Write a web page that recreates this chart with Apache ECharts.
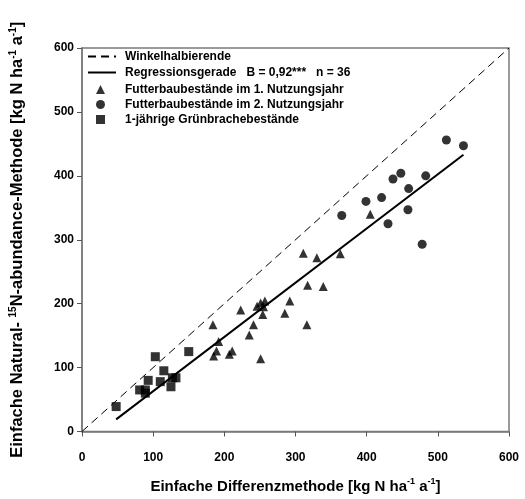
<!DOCTYPE html>
<html>
<head>
<meta charset="utf-8">
<script src="https://cdn.jsdelivr.net/npm/echarts@6/dist/echarts.min.js"></script>
<style>html,body{margin:0;padding:0;background:#fff}#c{width:525px;height:499px}</style>
</head>
<body>
<div id="c"></div>
<script>
// Data
var xTicks = [0, 100, 200, 300, 400, 500, 600];
var yTicks = [0, 100, 200, 300, 400, 500, 600];

var diagX = [0, 600];
var diagY = [0, 600];

var regX = [48, 536];
var regY = [19, 433];

var triX = [184, 223, 246, 251, 257, 255, 254, 241, 235, 192, 189, 185, 211, 207, 251, 311, 330, 363, 317, 339, 292, 285, 316, 405];
var triY = [167, 190, 196, 201, 204, 195, 183, 167, 151, 141, 126, 118, 126, 121, 114, 279, 272, 278, 229, 227, 204, 185, 167, 340];

var cirX = [512, 536, 448, 437, 483, 459, 399, 421, 458, 430, 478, 365];
var cirY = [456, 447, 404, 395, 400, 380, 360, 366, 347, 325, 293, 338];

var sqX = [48, 103, 150, 115, 93, 110, 127, 132, 125, 81, 89, 89];
var sqY = [39, 117, 125, 95, 80, 78, 84, 84, 70, 65, 65, 60];

var names = [
  'Winkelhalbierende',
  'Regressionsgerade   B = 0,92***   n = 36',
  'Futterbaubestände im 1. Nutzungsjahr',
  'Futterbaubestände im 2. Nutzungsjahr',
  '1-jährige Grünbrachebestände'
];

function pairs(xs, ys) { return xs.map(function (x, i) { return [x, ys[i]]; }); }

var FONT = '"Liberation Sans", Arial, sans-serif';
var chart = echarts.init(document.getElementById('c'), null, {renderer: 'canvas'});
var legText = {fontFamily: FONT, fontWeight: 'bold', fontSize: 12, color: '#000', lineHeight: 15};

chart.setOption({
  animation: false,
  backgroundColor: '#fff',
  grid: {left: 80, right: 16, top: 48, bottom: 62, show: true, borderColor: '#7a7a7a', borderWidth: 1.5},
  legend: [
    {
      orient: 'vertical', left: 82, top: 49, padding: [0, 5],
      itemWidth: 28, itemHeight: 10, itemGap: 1,
      textStyle: Object.assign({padding: [0, 0, 0, 4]}, legText),
      itemStyle: {opacity: 0},
      data: [{name: names[0]}, {name: names[1]}]
    },
    {
      orient: 'vertical', left: 91, top: 82, padding: [0, 5],
      itemWidth: 9, itemHeight: 9, itemGap: 0,
      textStyle: Object.assign({padding: [0, 0, 0, 15]}, legText),
      data: [{name: names[2], icon: 'triangle'}, {name: names[3], icon: 'circle'}, {name: names[4], icon: 'rect'}]
    }
  ],
  xAxis: {
    type: 'value', min: 0, max: 600, interval: 100,
    axisLine: {show: true, lineStyle: {color: '#7a7a7a', width: 1.5}},
    axisTick: {show: true, inside: false, length: 5, lineStyle: {color: '#555'}},
    splitLine: {show: false},
    axisLabel: {fontFamily: FONT, fontWeight: 'bold', fontSize: 12, color: '#000', margin: 20,
      formatter: function (v) { return xTicks.indexOf(v) >= 0 ? String(v) : ''; }},
    name: '{b|Einfache Differenzmethode [kg N ha}{s|-1}{b| a}{s|-1}{b|]}',
    nameLocation: 'middle', nameGap: 46,
    nameTextStyle: {rich: {
      b: {fontSize: 15, fontWeight: 'bold', fontFamily: FONT, lineHeight: 18, color: '#000'},
      s: {fontSize: 9, fontWeight: 'bold', fontFamily: FONT, verticalAlign: 'top', lineHeight: 18, color: '#000'}
    }}
  },
  yAxis: {
    type: 'value', min: 0, max: 600, interval: 100,
    axisLine: {show: true, lineStyle: {color: '#7a7a7a', width: 1.5}},
    axisTick: {show: true, inside: false, length: 5, lineStyle: {color: '#555'}},
    splitLine: {show: false},
    axisLabel: {fontFamily: FONT, fontWeight: 'bold', fontSize: 12, color: '#000', margin: 8,
      formatter: function (v) { return yTicks.indexOf(v) >= 0 ? String(v) : ''; }},
    name: '{b|Einfache Natural- }{s|15}{b|N-abundance-Methode [kg N ha}{s|-1}{b| a}{s|-1}{b|]}',
    nameLocation: 'middle', nameGap: 55, nameRotate: 90,
    nameTextStyle: {rich: {
      b: {fontSize: 16.5, fontWeight: 'bold', fontFamily: FONT, lineHeight: 19, color: '#000'},
      s: {fontSize: 10, fontWeight: 'bold', fontFamily: FONT, verticalAlign: 'top', lineHeight: 19, color: '#000'}
    }}
  },
  series: [
    {name: names[0], type: 'line', data: pairs(diagX, diagY), symbol: 'none', showSymbol: false,
      lineStyle: {color: '#000', width: 1, type: [8, 5]}, itemStyle: {color: '#000'}, z: 1},
    {name: names[1], type: 'line', data: pairs(regX, regY), symbol: 'none', showSymbol: false,
      lineStyle: {color: '#000', width: 2}, itemStyle: {color: '#000'}, z: 2},
    {name: names[2], type: 'scatter', data: pairs(triX, triY), symbol: 'triangle', symbolSize: 9,
      itemStyle: {color: '#000'}, z: 3},
    {name: names[3], type: 'scatter', data: pairs(cirX, cirY), symbol: 'circle', symbolSize: 9,
      itemStyle: {color: '#000'}, z: 3},
    {name: names[4], type: 'scatter', data: pairs(sqX, sqY), symbol: 'rect', symbolSize: 9,
      itemStyle: {color: '#000'}, z: 3}
  ]
});
</script>
</body>
</html>
